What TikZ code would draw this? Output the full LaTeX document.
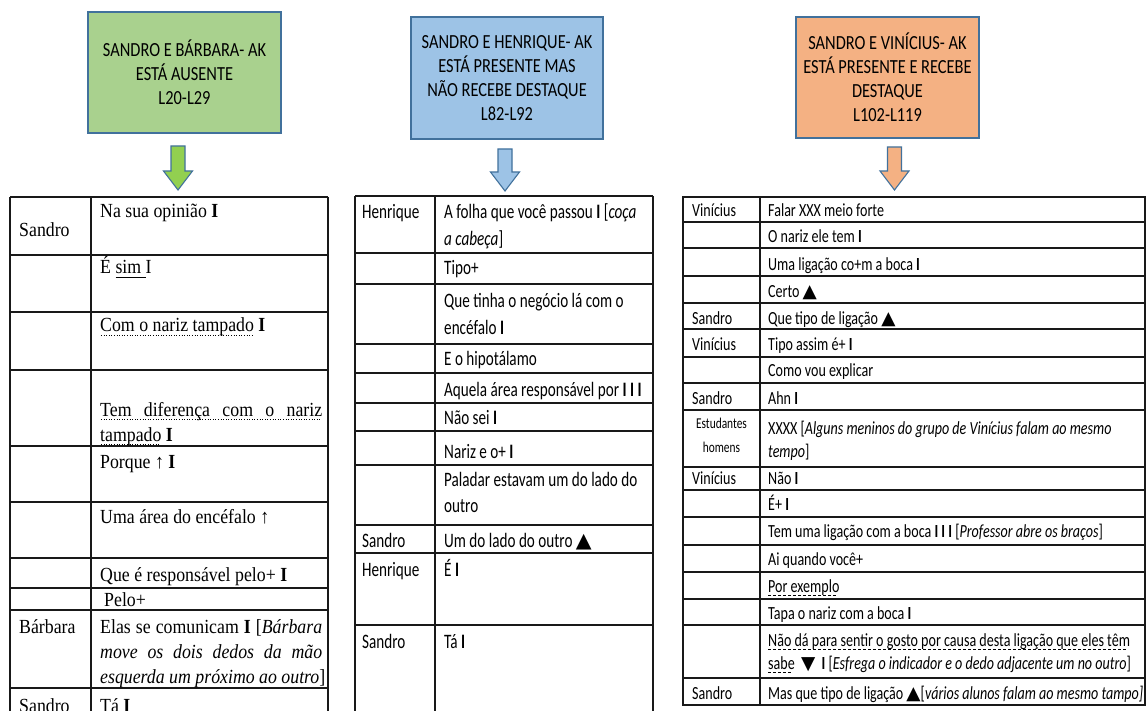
\documentclass[tikz,border=0pt]{standalone}
\usepackage{fontspec}
\setmainfont{Carlito}
% condensed faces used in the three transcript tables and the headers
\newfontfamily\serifT[FakeStretch=0.89]{Liberation Serif}
\newfontfamily\sansB[FakeStretch=0.74]{Carlito}
\newfontfamily\sansC[FakeStretch=0.76]{Carlito}
\newfontfamily\headF[FakeStretch=0.82]{Carlito}
\newfontfamily\symf{DejaVu Sans}
\newcommand\up{{\symf ▲}}
\newcommand\down{{\symf ▼}}

% patterned underlines: #1 is the repeated mark, #2 the text
\newcommand\ulpattern[2]{\leavevmode\setbox0\hbox{#2}%
  \rlap{\raisebox{-3.5pt}{\hbox to \wd0{\leaders#1\hfill}}}\box0\relax}
\newcommand\dotul[1]{\ulpattern{\hbox to 2.6pt{\hss\rule{1.1pt}{0.9pt}\hss}}{#1}}
\newcommand\dashul[1]{\ulpattern{\hbox to 5pt{\rule{3.2pt}{0.9pt}\hss}}{#1}}
\newcommand\solidul[1]{\ulpattern{\hbox to 1pt{\rule{1pt}{0.9pt}}}{#1}}
% a line of text spread to the full cell width
\newcommand\fullline[1]{\leavevmode\hbox to 222pt{#1}}

\definecolor{hgreen}{HTML}{A9D18E}
\definecolor{agreen}{HTML}{92D050}
\definecolor{hblue}{HTML}{9DC3E6}
\definecolor{horange}{HTML}{F4B183}
\definecolor{edgeblue}{HTML}{41719C}

\newcommand\blockarrow[4]{% centre x, top, tip, fill colour
  \filldraw[fill=#4, draw=edgeblue, line width=1.1pt, line join=miter]
    (#1-7,#2) -- (#1+7,#2) -- (#1+7,#3-19) -- (#1+14.5,#3-19) -- (#1,#3)
    -- (#1-14.5,#3-19) -- (#1-7,#3-19) -- cycle;}

\begin{document}
\begin{tikzpicture}[x=1pt,y=-1pt,
  tline/.style={line width=1.1pt, draw=black!90},
  hbox/.style={draw=edgeblue, line width=1.2pt, align=flush center, inner sep=0pt,
    font=\headF\fontsize{20}{24}\selectfont},
  % table 1 (serif)
  name1/.style={anchor=base west, inner sep=0pt, font=\serifT\fontsize{20}{25}\selectfont},
  cell1/.style={anchor=base west, inner sep=0pt, text width=226pt, align=flush left,
    font=\serifT\fontsize{20}{25}\selectfont},
  % table 2 (sans, larger)
  name2/.style={anchor=base west, inner sep=0pt, font=\sansB\fontsize{20.5}{26.5}\selectfont},
  cell2/.style={anchor=base west, inner sep=0pt, text width=205pt, align=flush left,
    font=\sansB\fontsize{20.5}{26.5}\selectfont},
  % table 3 (sans)
  name3/.style={anchor=base west, inner sep=0pt, font=\sansC\fontsize{18.5}{23}\selectfont},
  cell3/.style={anchor=base west, inner sep=0pt, text width=375pt, align=flush left,
    font=\sansC\fontsize{18.5}{23.5}\selectfont}
]
\path[use as bounding box, clip] (0,0) rectangle (1146,711);
\fill[white] (0,0) rectangle (1146,711);

% ---------- headers ----------
\node[hbox, fill=hgreen, minimum width=193pt, minimum height=121pt] (h1) at (184.5,72.5)
  {SANDRO E BÁRBARA- AK\\ESTÁ AUSENTE\\L20-L29};
\node[hbox, fill=hblue, minimum width=192pt, minimum height=122pt] (h2) at (507,78)
  {SANDRO E HENRIQUE- AK\\ESTÁ PRESENTE MAS\\NÃO RECEBE DESTAQUE\\L82-L92};
\node[hbox, fill=horange, minimum width=183pt, minimum height=121pt] (h3) at (887.5,77.5)
  {SANDRO E VINÍCIUS- AK\\ESTÁ PRESENTE E RECEBE\\DESTAQUE\\L102-L119};

\blockarrow{178}{146}{190}{agreen}
\blockarrow{505}{149}{191}{hblue}
\blockarrow{894.5}{147}{190}{horange}

% ---------- table 1 ----------
\draw[tline] (10,197) -- (328,197);
\foreach \xx in {10,91,328} \draw[tline] (\xx,197) -- (\xx,715);
\foreach \yy in {255,312,370,446,502,558,588,610,688} \draw[tline] (10,\yy) -- (328,\yy);

\node[name1] (s1a) at (19,237) {Sandro};
\node[cell1] (r1a) at (100,218) {Na sua opinião \textbf{I}};
\node[cell1] (r1b) at (100,274) {É \solidul{sim }I};
\node[cell1] (r1c) at (100,332) {\dotul{Com o nariz tampado} \textbf{I}};
\node[cell1] (r1d) at (100,416) {\dotul{\hbox to 222pt{Tem\hfill diferença\hfill com\hfill o\hfill nariz}}\\
  \dotul{tampado} \textbf{I}};
\node[cell1] (r1e) at (100,468) {Porque ↑ \textbf{I}};
\node[cell1] (r1f) at (100,523) {Uma área do encéfalo ↑};
\node[cell1] (r1g) at (100,581) {Que é responsável pelo+ \textbf{I}};
\node[cell1] (r1h) at (104,606) {Pelo+};
\node[name1] (s1b) at (19,633) {Bárbara};
\node[cell1] (r1i) at (100,633) {\fullline{Elas\hfill se\hfill comunicam\hfill \textbf{I}\hfill [\textit{Bárbara}}\\
  \fullline{\itshape move\hfill os\hfill dois\hfill dedos\hfill da\hfill mão}\\
  \textit{esquerda um próximo ao outro}]};
\node[name1] (s1c) at (19,712) {Sandro};
\node[cell1] (r1j) at (100,712) {Tá \textbf{I}};

% ---------- table 2 ----------
\draw[tline] (355,196) -- (653,196);
\foreach \xx in {355,435,653} \draw[tline] (\xx,196) -- (\xx,715);
\foreach \yy in {253,284,344,373,403,431,465,525,553,625} \draw[tline] (355,\yy) -- (653,\yy);

\node[name2] (s2a) at (362,219) {Henrique};
\node[cell2] (r2a) at (444,219) {A folha que você passou \textbf{I} [\textit{coça}\\\textit{a cabeça}]};
\node[cell2] (r2b) at (444,275) {Tipo+};
\node[cell2] (r2c) at (444,308) {Que tinha o negócio lá com o\\encéfalo \textbf{I}};
\node[cell2] (r2d) at (444,366) {E o hipotálamo};
\node[cell2] (r2e) at (444,396) {Aquela área responsável por \textbf{I I I}};
\node[cell2] (r2f) at (444,424) {Não sei \textbf{I}};
\node[cell2] (r2g) at (444,458) {Nariz e o+ \textbf{I}};
\node[cell2] (r2h) at (444,486) {Paladar estavam um do lado do\\outro};
\node[name2] (s2b) at (362,547) {Sandro};
\node[cell2] (r2i) at (444,547) {Um do lado do outro\,\up};
\node[name2] (s2c) at (362,576) {Henrique};
\node[cell2] (r2j) at (444,576) {É \textbf{I}};
\node[name2] (s2d) at (362,648) {Sandro};
\node[cell2] (r2k) at (444,648) {Tá \textbf{I}};

% ---------- table 3 ----------
\draw[tline] (683,197) rectangle (1145,705);
\draw[tline] (760,197) -- (760,705);
\foreach \yy in {222,248,276,303,329,357,383,410,467,490,517,545,572,599,625,678}
  \draw[tline] (683,\yy) -- (1145,\yy);

\node[name3] (s3a) at (692,217) {Vinícius};
\node[cell3] (r3a) at (768,217) {Falar XXX meio forte};
\node[cell3] (r3b) at (768,243) {O nariz ele tem \textbf{I}};
\node[cell3] (r3c) at (768,271) {Uma ligação co+m a boca \textbf{I}};
\node[cell3] (r3d) at (768,298) {Certo\,\up};
\node[name3] (s3b) at (692,325) {Sandro};
\node[cell3] (r3e) at (768,325) {Que tipo de ligação \up};
\node[name3] (s3c) at (692,351) {Vinícius};
\node[cell3] (r3f) at (768,351) {Tipo assim é+ \textbf{I}};
\node[cell3] (r3g) at (768,377) {Como vou explicar};
\node[name3] (s3d) at (692,404) {Sandro};
\node[cell3] (r3h) at (768,404) {Ahn \textbf{I}};
\node[anchor=base, inner sep=0pt, text width=74pt, align=flush center,
  font=\sansC\fontsize{15}{24}\selectfont] (s3e) at (721.5,428) {Estudantes\\homens};
\node[cell3] (r3i) at (768,434) {XXXX [\textit{Alguns meninos do grupo de Vinícius falam ao mesmo}\\\textit{tempo}]};
\node[name3] (s3f) at (692,484) {Vinícius};
\node[cell3] (r3j) at (768,484) {Não \textbf{I}};
\node[cell3] (r3k) at (768,510) {É+ \textbf{I}};
\node[cell3] (r3l) at (768,537) {Tem uma ligação com a boca \textbf{I I I} [\textit{Professor abre os braços}]};
\node[cell3] (r3m) at (768,565) {Ai quando você+};
\node[cell3] (r3n) at (768,592) {\dashul{Por exemplo}};
\node[cell3] (r3o) at (768,619) {Tapa o nariz com a boca \textbf{I}};
\node[cell3] (r3p) at (768,646) {\dashul{Não dá para sentir o gosto por causa desta ligação que eles têm}\\
  \dashul{sabe}\, \down\, \textbf{I} [\textit{Esfrega o indicador e o dedo adjacente um no outro}]};
\node[name3] (s3g) at (692,699) {Sandro};
\node[cell3] (r3q) at (768,699) {Mas que tipo de ligação \up[\textit{vários alunos falam ao mesmo tampo]}};
\end{tikzpicture}
\end{document}
